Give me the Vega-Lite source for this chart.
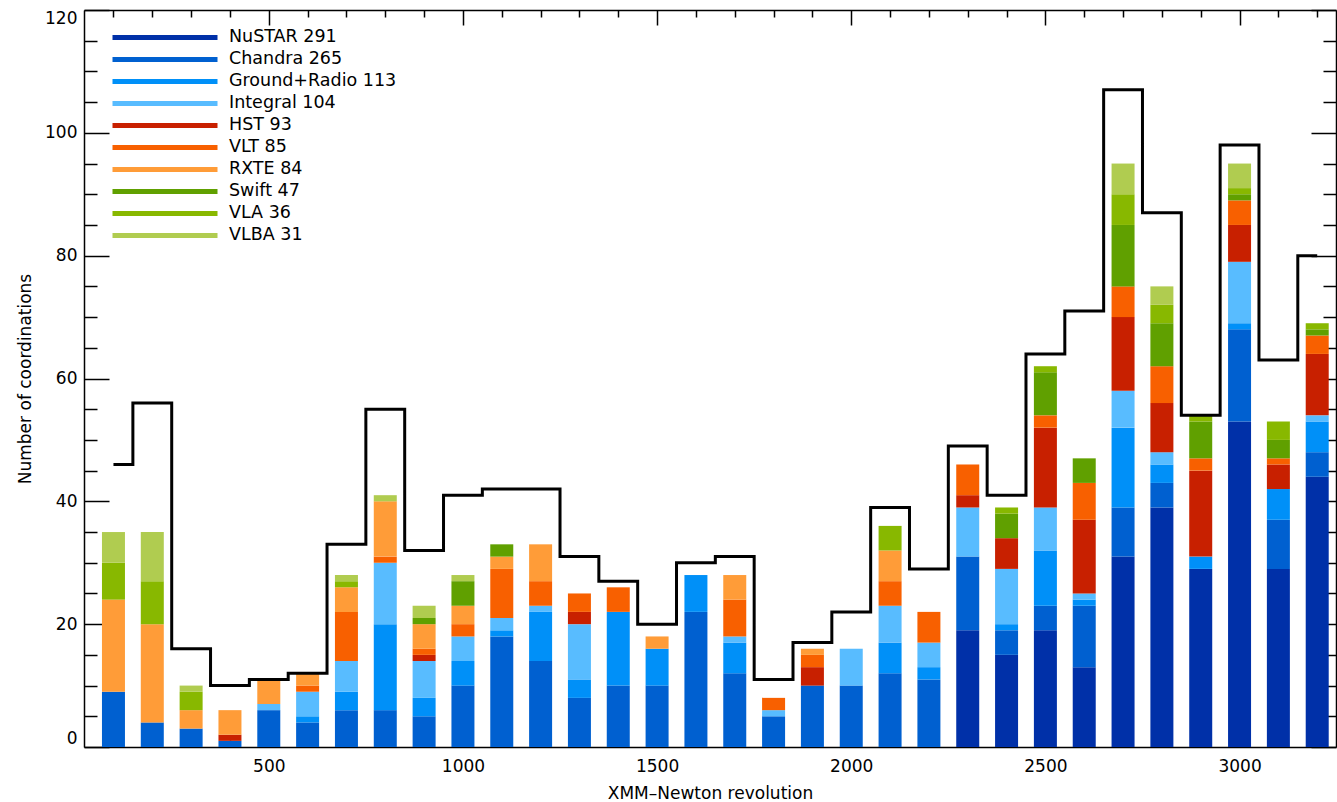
{
  "$schema": "https://vega.github.io/schema/vega-lite/v6.json",
  "width": 1252,
  "height": 737,
  "autosize": {"type": "none"},
  "padding": {"left": 84, "top": 10, "right": 1, "bottom": 55},
  "background": "white",
  "config": {
    "view": {"stroke": null},
    "font": "DejaVu Sans",
    "axis": {
      "grid": false,
      "domainColor": "black",
      "domainWidth": 1.5,
      "tickColor": "black",
      "tickWidth": 1.5,
      "labelColor": "black",
      "labelFont": "DejaVu Sans",
      "labelFontSize": 17,
      "titleFont": "DejaVu Sans",
      "titleFontSize": 17,
      "titleFontWeight": "normal",
      "titleColor": "black"
    }
  },
  "datasets": {
    "counts": [
      {"rev": 100, "mission": "Chandra", "n": 9}, {"rev": 100, "mission": "RXTE", "n": 15}, {"rev": 100, "mission": "VLA", "n": 6}, {"rev": 100, "mission": "VLBA", "n": 5},
      {"rev": 200, "mission": "Chandra", "n": 4}, {"rev": 200, "mission": "RXTE", "n": 16}, {"rev": 200, "mission": "VLA", "n": 7}, {"rev": 200, "mission": "VLBA", "n": 8},
      {"rev": 300, "mission": "Chandra", "n": 3}, {"rev": 300, "mission": "RXTE", "n": 3}, {"rev": 300, "mission": "VLA", "n": 3}, {"rev": 300, "mission": "VLBA", "n": 1},
      {"rev": 400, "mission": "Chandra", "n": 1}, {"rev": 400, "mission": "HST", "n": 1}, {"rev": 400, "mission": "RXTE", "n": 4},
      {"rev": 500, "mission": "Chandra", "n": 6}, {"rev": 500, "mission": "Integral", "n": 1}, {"rev": 500, "mission": "RXTE", "n": 4},
      {"rev": 600, "mission": "Chandra", "n": 4}, {"rev": 600, "mission": "Ground+Radio", "n": 1}, {"rev": 600, "mission": "Integral", "n": 4}, {"rev": 600, "mission": "VLT", "n": 1}, {"rev": 600, "mission": "RXTE", "n": 2},
      {"rev": 700, "mission": "Chandra", "n": 6}, {"rev": 700, "mission": "Ground+Radio", "n": 3}, {"rev": 700, "mission": "Integral", "n": 5}, {"rev": 700, "mission": "VLT", "n": 8}, {"rev": 700, "mission": "RXTE", "n": 4}, {"rev": 700, "mission": "VLA", "n": 1}, {"rev": 700, "mission": "VLBA", "n": 1},
      {"rev": 800, "mission": "Chandra", "n": 6}, {"rev": 800, "mission": "Ground+Radio", "n": 14}, {"rev": 800, "mission": "Integral", "n": 10}, {"rev": 800, "mission": "VLT", "n": 1}, {"rev": 800, "mission": "RXTE", "n": 9}, {"rev": 800, "mission": "VLBA", "n": 1},
      {"rev": 900, "mission": "Chandra", "n": 5}, {"rev": 900, "mission": "Ground+Radio", "n": 3}, {"rev": 900, "mission": "Integral", "n": 6}, {"rev": 900, "mission": "HST", "n": 1}, {"rev": 900, "mission": "VLT", "n": 1}, {"rev": 900, "mission": "RXTE", "n": 4}, {"rev": 900, "mission": "Swift", "n": 1}, {"rev": 900, "mission": "VLBA", "n": 2},
      {"rev": 1000, "mission": "Chandra", "n": 10}, {"rev": 1000, "mission": "Ground+Radio", "n": 4}, {"rev": 1000, "mission": "Integral", "n": 4}, {"rev": 1000, "mission": "VLT", "n": 2}, {"rev": 1000, "mission": "RXTE", "n": 3}, {"rev": 1000, "mission": "Swift", "n": 4}, {"rev": 1000, "mission": "VLBA", "n": 1},
      {"rev": 1100, "mission": "Chandra", "n": 18}, {"rev": 1100, "mission": "Ground+Radio", "n": 1}, {"rev": 1100, "mission": "Integral", "n": 2}, {"rev": 1100, "mission": "VLT", "n": 8}, {"rev": 1100, "mission": "RXTE", "n": 2}, {"rev": 1100, "mission": "Swift", "n": 2},
      {"rev": 1200, "mission": "Chandra", "n": 14}, {"rev": 1200, "mission": "Ground+Radio", "n": 8}, {"rev": 1200, "mission": "Integral", "n": 1}, {"rev": 1200, "mission": "VLT", "n": 4}, {"rev": 1200, "mission": "RXTE", "n": 6},
      {"rev": 1300, "mission": "Chandra", "n": 8}, {"rev": 1300, "mission": "Ground+Radio", "n": 3}, {"rev": 1300, "mission": "Integral", "n": 9}, {"rev": 1300, "mission": "HST", "n": 2}, {"rev": 1300, "mission": "VLT", "n": 3},
      {"rev": 1400, "mission": "Chandra", "n": 10}, {"rev": 1400, "mission": "Ground+Radio", "n": 12}, {"rev": 1400, "mission": "VLT", "n": 4},
      {"rev": 1500, "mission": "Chandra", "n": 10}, {"rev": 1500, "mission": "Ground+Radio", "n": 6}, {"rev": 1500, "mission": "RXTE", "n": 2},
      {"rev": 1600, "mission": "Chandra", "n": 22}, {"rev": 1600, "mission": "Ground+Radio", "n": 6},
      {"rev": 1700, "mission": "Chandra", "n": 12}, {"rev": 1700, "mission": "Ground+Radio", "n": 5}, {"rev": 1700, "mission": "Integral", "n": 1}, {"rev": 1700, "mission": "VLT", "n": 6}, {"rev": 1700, "mission": "RXTE", "n": 4},
      {"rev": 1800, "mission": "Chandra", "n": 5}, {"rev": 1800, "mission": "Integral", "n": 1}, {"rev": 1800, "mission": "VLT", "n": 2},
      {"rev": 1900, "mission": "Chandra", "n": 10}, {"rev": 1900, "mission": "HST", "n": 3}, {"rev": 1900, "mission": "VLT", "n": 2}, {"rev": 1900, "mission": "RXTE", "n": 1},
      {"rev": 2000, "mission": "Chandra", "n": 10}, {"rev": 2000, "mission": "Integral", "n": 6},
      {"rev": 2100, "mission": "Chandra", "n": 12}, {"rev": 2100, "mission": "Ground+Radio", "n": 5}, {"rev": 2100, "mission": "Integral", "n": 6}, {"rev": 2100, "mission": "VLT", "n": 4}, {"rev": 2100, "mission": "RXTE", "n": 5}, {"rev": 2100, "mission": "VLA", "n": 4},
      {"rev": 2200, "mission": "Chandra", "n": 11}, {"rev": 2200, "mission": "Ground+Radio", "n": 2}, {"rev": 2200, "mission": "Integral", "n": 4}, {"rev": 2200, "mission": "VLT", "n": 5},
      {"rev": 2300, "mission": "NuSTAR", "n": 19}, {"rev": 2300, "mission": "Chandra", "n": 12}, {"rev": 2300, "mission": "Integral", "n": 8}, {"rev": 2300, "mission": "HST", "n": 2}, {"rev": 2300, "mission": "VLT", "n": 5},
      {"rev": 2400, "mission": "NuSTAR", "n": 15}, {"rev": 2400, "mission": "Chandra", "n": 4}, {"rev": 2400, "mission": "Ground+Radio", "n": 1}, {"rev": 2400, "mission": "Integral", "n": 9}, {"rev": 2400, "mission": "HST", "n": 5}, {"rev": 2400, "mission": "Swift", "n": 4}, {"rev": 2400, "mission": "VLA", "n": 1},
      {"rev": 2500, "mission": "NuSTAR", "n": 19}, {"rev": 2500, "mission": "Chandra", "n": 4}, {"rev": 2500, "mission": "Ground+Radio", "n": 9}, {"rev": 2500, "mission": "Integral", "n": 7}, {"rev": 2500, "mission": "HST", "n": 13}, {"rev": 2500, "mission": "VLT", "n": 2}, {"rev": 2500, "mission": "Swift", "n": 7}, {"rev": 2500, "mission": "VLA", "n": 1},
      {"rev": 2600, "mission": "NuSTAR", "n": 13}, {"rev": 2600, "mission": "Chandra", "n": 10}, {"rev": 2600, "mission": "Ground+Radio", "n": 1}, {"rev": 2600, "mission": "Integral", "n": 1}, {"rev": 2600, "mission": "HST", "n": 12}, {"rev": 2600, "mission": "VLT", "n": 6}, {"rev": 2600, "mission": "Swift", "n": 4},
      {"rev": 2700, "mission": "NuSTAR", "n": 31}, {"rev": 2700, "mission": "Chandra", "n": 8}, {"rev": 2700, "mission": "Ground+Radio", "n": 13}, {"rev": 2700, "mission": "Integral", "n": 6}, {"rev": 2700, "mission": "HST", "n": 12}, {"rev": 2700, "mission": "VLT", "n": 5}, {"rev": 2700, "mission": "Swift", "n": 10}, {"rev": 2700, "mission": "VLA", "n": 5}, {"rev": 2700, "mission": "VLBA", "n": 5},
      {"rev": 2800, "mission": "NuSTAR", "n": 39}, {"rev": 2800, "mission": "Chandra", "n": 4}, {"rev": 2800, "mission": "Ground+Radio", "n": 3}, {"rev": 2800, "mission": "Integral", "n": 2}, {"rev": 2800, "mission": "HST", "n": 8}, {"rev": 2800, "mission": "VLT", "n": 6}, {"rev": 2800, "mission": "Swift", "n": 7}, {"rev": 2800, "mission": "VLA", "n": 3}, {"rev": 2800, "mission": "VLBA", "n": 3},
      {"rev": 2900, "mission": "NuSTAR", "n": 29}, {"rev": 2900, "mission": "Ground+Radio", "n": 2}, {"rev": 2900, "mission": "HST", "n": 14}, {"rev": 2900, "mission": "VLT", "n": 2}, {"rev": 2900, "mission": "Swift", "n": 6}, {"rev": 2900, "mission": "VLA", "n": 1},
      {"rev": 3000, "mission": "NuSTAR", "n": 53}, {"rev": 3000, "mission": "Chandra", "n": 15}, {"rev": 3000, "mission": "Ground+Radio", "n": 1}, {"rev": 3000, "mission": "Integral", "n": 10}, {"rev": 3000, "mission": "HST", "n": 6}, {"rev": 3000, "mission": "VLT", "n": 4}, {"rev": 3000, "mission": "Swift", "n": 1}, {"rev": 3000, "mission": "VLA", "n": 1}, {"rev": 3000, "mission": "VLBA", "n": 4},
      {"rev": 3100, "mission": "NuSTAR", "n": 29}, {"rev": 3100, "mission": "Chandra", "n": 8}, {"rev": 3100, "mission": "Ground+Radio", "n": 5}, {"rev": 3100, "mission": "HST", "n": 4}, {"rev": 3100, "mission": "VLT", "n": 1}, {"rev": 3100, "mission": "Swift", "n": 3}, {"rev": 3100, "mission": "VLA", "n": 3},
      {"rev": 3200, "mission": "NuSTAR", "n": 44}, {"rev": 3200, "mission": "Chandra", "n": 4}, {"rev": 3200, "mission": "Ground+Radio", "n": 5}, {"rev": 3200, "mission": "Integral", "n": 1}, {"rev": 3200, "mission": "HST", "n": 10}, {"rev": 3200, "mission": "VLT", "n": 3}, {"rev": 3200, "mission": "Swift", "n": 1}, {"rev": 3200, "mission": "VLA", "n": 1}
    ],
    "totals": [
      {"rev": 100, "total": 46}, {"rev": 200, "total": 56}, {"rev": 300, "total": 16}, {"rev": 400, "total": 10},
      {"rev": 500, "total": 11}, {"rev": 600, "total": 12}, {"rev": 700, "total": 33}, {"rev": 800, "total": 55},
      {"rev": 900, "total": 32}, {"rev": 1000, "total": 41}, {"rev": 1100, "total": 42}, {"rev": 1200, "total": 42},
      {"rev": 1300, "total": 31}, {"rev": 1400, "total": 27}, {"rev": 1500, "total": 20}, {"rev": 1600, "total": 30},
      {"rev": 1700, "total": 31}, {"rev": 1800, "total": 11}, {"rev": 1900, "total": 17}, {"rev": 2000, "total": 22},
      {"rev": 2100, "total": 39}, {"rev": 2200, "total": 29}, {"rev": 2300, "total": 49}, {"rev": 2400, "total": 41},
      {"rev": 2500, "total": 64}, {"rev": 2600, "total": 71}, {"rev": 2700, "total": 107}, {"rev": 2800, "total": 87},
      {"rev": 2900, "total": 54}, {"rev": 3000, "total": 98}, {"rev": 3100, "total": 63}, {"rev": 3200, "total": 80}
    ]
  },
  "layer": [
    {
      "data": {"name": "counts"},
      "transform": [
        {"calculate": "indexof(['NuSTAR', 'Chandra', 'Ground+Radio', 'Integral', 'HST', 'VLT', 'RXTE', 'Swift', 'VLA', 'VLBA'], datum.mission)", "as": "stackRank"}
      ],
      "mark": {"type": "bar", "size": 23},
      "encoding": {
        "x": {
          "field": "rev",
          "type": "quantitative",
          "scale": {"domain": [37, 3235.5], "nice": false, "zero": false},
          "axis": {
            "orient": "bottom",
            "values": [100,200,300,400,500,600,700,800,900,1000,1100,1200,1300,1400,1500,1600,1700,1800,1900,2000,2100,2200,2300,2400,2500,2600,2700,2800,2900,3000,3100,3200],
            "format": "d",
            "tickSize": {"condition": {"test": "datum.value % 500 === 0", "value": -15}, "value": -7},
            "labelExpr": "datum.value % 500 === 0 ? datum.label : ''",
            "labelFlush": false,
            "labelPadding": 26,
            "title": "XMM\u2013Newton revolution",
            "titlePadding": 11
          }
        },
        "y": {
          "field": "n",
          "type": "quantitative",
          "stack": "zero",
          "scale": {"domain": [0, 120], "nice": false},
          "axis": {
            "orient": "left",
            "values": [0,5,10,15,20,25,30,35,40,45,50,55,60,65,70,75,80,85,90,95,100,105,110,115,120],
            "format": "d",
            "tickSize": {"condition": {"test": "datum.value % 20 === 0", "value": -25}, "value": -13},
            "labelExpr": "datum.value % 20 === 0 ? datum.label : ''",
            "labelFlush": true,
            "labelPadding": 32,
            "title": "Number of coordinations",
            "titlePadding": 10
          }
        },
        "order": {"field": "stackRank", "type": "quantitative", "sort": "ascending"},
        "color": {
          "field": "mission",
          "type": "nominal",
          "sort": ["NuSTAR", "Chandra", "Ground+Radio", "Integral", "HST", "VLT", "RXTE", "Swift", "VLA", "VLBA"],
          "scale": {
            "domain": ["NuSTAR", "Chandra", "Ground+Radio", "Integral", "HST", "VLT", "RXTE", "Swift", "VLA", "VLBA"],
            "range": ["#0030a8", "#0060d0", "#0090f8", "#58bcff", "#c82000", "#f86000", "#ff9c38", "#60a000", "#88b800", "#b0cc50"]
          },
          "legend": {
            "orient": "none",
            "legendX": 26,
            "legendY": 16.5,
            "title": null,
            "padding": 0,
            "symbolType": "stroke",
            "symbolSize": 11025,
            "symbolStrokeWidth": 5,
            "clipHeight": 21.8,
            "rowPadding": 0,
            "labelOffset": 9,
            "labelLimit": 400,
            "labelFont": "DejaVu Sans",
            "labelFontSize": 17.5,
            "labelColor": "black",
            "labelExpr": "datum.label + ' ' + [291, 265, 113, 104, 93, 85, 84, 47, 36, 31][indexof(['NuSTAR', 'Chandra', 'Ground+Radio', 'Integral', 'HST', 'VLT', 'RXTE', 'Swift', 'VLA', 'VLBA'], datum.label)]",
            "encode": {"symbols": {"update": {"stroke": {"scale": "color", "field": "value"}}}}
          }
        }
      }
    },
    {
      "data": {"name": "totals"},
      "mark": {"type": "line", "interpolate": "step", "color": "black", "strokeWidth": 3},
      "encoding": {
        "x": {
          "field": "rev",
          "type": "quantitative",
          "scale": {"domain": [37, 3235.5], "nice": false, "zero": false},
          "axis": {
            "orient": "top",
            "values": [100,200,300,400,500,600,700,800,900,1000,1100,1200,1300,1400,1500,1600,1700,1800,1900,2000,2100,2200,2300,2400,2500,2600,2700,2800,2900,3000,3100,3200],
            "tickSize": {"condition": {"test": "datum.value % 500 === 0", "value": -15}, "value": -7},
            "labels": false,
            "title": null
          }
        },
        "y": {
          "field": "total",
          "type": "quantitative",
          "scale": {"domain": [0, 120], "nice": false},
          "axis": {
            "orient": "right",
            "values": [0,5,10,15,20,25,30,35,40,45,50,55,60,65,70,75,80,85,90,95,100,105,110,115,120],
            "tickSize": {"condition": {"test": "datum.value % 20 === 0", "value": -25}, "value": -13},
            "labels": false,
            "title": null
          }
        }
      }
    }
  ],
  "resolve": {"axis": {"x": "independent", "y": "independent"}}
}
